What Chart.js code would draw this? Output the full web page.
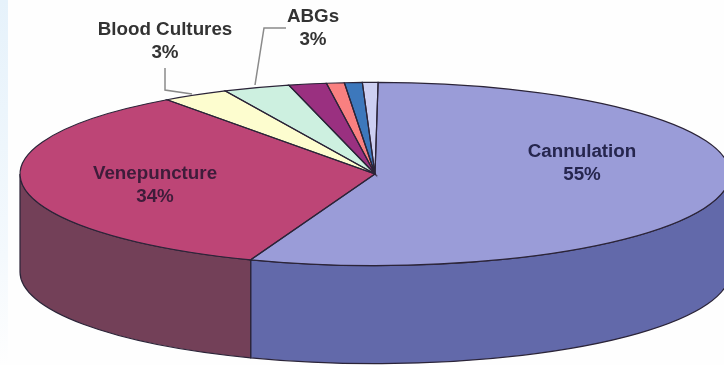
<!DOCTYPE html>
<html>
<head>
<meta charset="utf-8">
<script src="https://cdn.jsdelivr.net/npm/chart.js@4"></script>
<style>
    html, body { margin: 0; padding: 0; }
    body {
        width: 724px;
        height: 365px;
        overflow: hidden;
        background: #fefefe linear-gradient(to bottom, #e6f2fb, #f4f9fd 70%, #fefefe) no-repeat 0 0 / 8px 100%;
    }
    canvas { display: block; }
</style>
</head>
<body>
<canvas id="pieChart" width="724" height="365"></canvas>
<script>
// Needlestick injuries by procedure
const categories = ['Cannulation', 'Venepuncture', 'Blood Cultures', 'ABGs', 'Other A', 'Other B', 'Other C', 'Other D'];
const shares = [55, 34, 3, 3, 1.7, 0.8, 0.8, 0.7];
const topColors = ['#9a9cd8', '#bd4576', '#fdfdcf', '#cdf0e0', '#9a3080', '#f98080', '#3d78bc', '#cdcff2'];
const sideColors = ['#6269aa', '#734058'];

const TILT = 0.258;      // vertical squash of the disc
const DEPTH = 98;        // height of the side wall in px
const RADIUS = 355;
const OUTLINE = '#2b2438';

const tiltAbout = (ctx, x, y) => {
    ctx.translate(x, y);
    ctx.scale(1, TILT);
    ctx.translate(-x, -y);
};

const wallPath = (ctx, arc, from, to) => {
    const ry = arc.outerRadius * TILT;
    ctx.beginPath();
    ctx.ellipse(arc.x, arc.y, arc.outerRadius, ry, 0, from, to);
    ctx.ellipse(arc.x, arc.y + DEPTH, arc.outerRadius, ry, 0, to, from, true);
    ctx.closePath();
};

const discPlugin = {
    id: 'disc',
    // side wall first, then tilt the canvas for the slices
    beforeDatasetsDraw(chart) {
        const ctx = chart.ctx;
        const arcs = chart.getDatasetMeta(0).data;
        arcs.forEach((arc, i) => {
            const from = Math.max(arc.startAngle, 0);
            const to = Math.min(arc.endAngle, Math.PI);
            if (to <= from) return;
            wallPath(ctx, arc, from, to);
            ctx.fillStyle = sideColors[i];
            ctx.fill();
            ctx.strokeStyle = OUTLINE;
            ctx.lineWidth = 1.2;
            ctx.stroke();
        });
        ctx.save();
        tiltAbout(ctx, arcs[0].x, arcs[0].y);
    },
    afterDatasetsDraw(chart) {
        const ctx = chart.ctx;
        ctx.restore();
        // outlines are stroked untilted so the line width stays even
        chart.getDatasetMeta(0).data.forEach(arc => {
            const ry = arc.outerRadius * TILT;
            ctx.beginPath();
            ctx.moveTo(arc.x, arc.y);
            ctx.ellipse(arc.x, arc.y, arc.outerRadius, ry, 0, arc.startAngle, arc.endAngle);
            ctx.closePath();
            ctx.strokeStyle = OUTLINE;
            ctx.lineWidth = 1.2;
            ctx.stroke();
        });
    }
};

const labelPlugin = {
    id: 'sliceLabels',
    afterDraw(chart) {
        const ctx = chart.ctx;
        const placed = [
            { index: 0, x: 582, y: 152, color: '#26264e' },
            { index: 1, x: 155, y: 174, color: '#3e1c3a' },
            { index: 2, x: 165, y: 30, color: '#333333' },
            { index: 3, x: 313, y: 17, color: '#333333' }
        ];
        ctx.save();
        ctx.font = 'bold 18.8px "Liberation Sans", Arial, sans-serif';
        ctx.textAlign = 'center';
        ctx.textBaseline = 'middle';
        placed.forEach(p => {
            ctx.fillStyle = p.color;
            ctx.fillText(categories[p.index], p.x, p.y);
            ctx.fillText(shares[p.index] + '%', p.x, p.y + 22.5);
        });

        // leader lines for the two outside labels
        ctx.strokeStyle = '#8a8a8a';
        ctx.lineWidth = 1.5;
        ctx.beginPath();
        ctx.moveTo(165, 68);
        ctx.lineTo(165, 90);
        ctx.lineTo(192, 94);
        ctx.moveTo(286, 28);
        ctx.lineTo(264, 28);
        ctx.lineTo(255, 85);
        ctx.stroke();
        ctx.restore();
    }
};

new Chart(document.getElementById('pieChart').getContext('2d'), {
    type: 'pie',
    data: {
        labels: categories,
        datasets: [{
            data: shares,
            backgroundColor: topColors,
            borderWidth: 0,
            radius: RADIUS,
            clip: false
        }]
    },
    options: {
        responsive: false,
        animation: false,
        rotation: 0.5,
        layout: { padding: { left: 26, bottom: 17 } },
        plugins: {
            legend: { display: false },
            tooltip: { enabled: false }
        }
    },
    plugins: [discPlugin, labelPlugin]
});
</script>
</body>
</html>
